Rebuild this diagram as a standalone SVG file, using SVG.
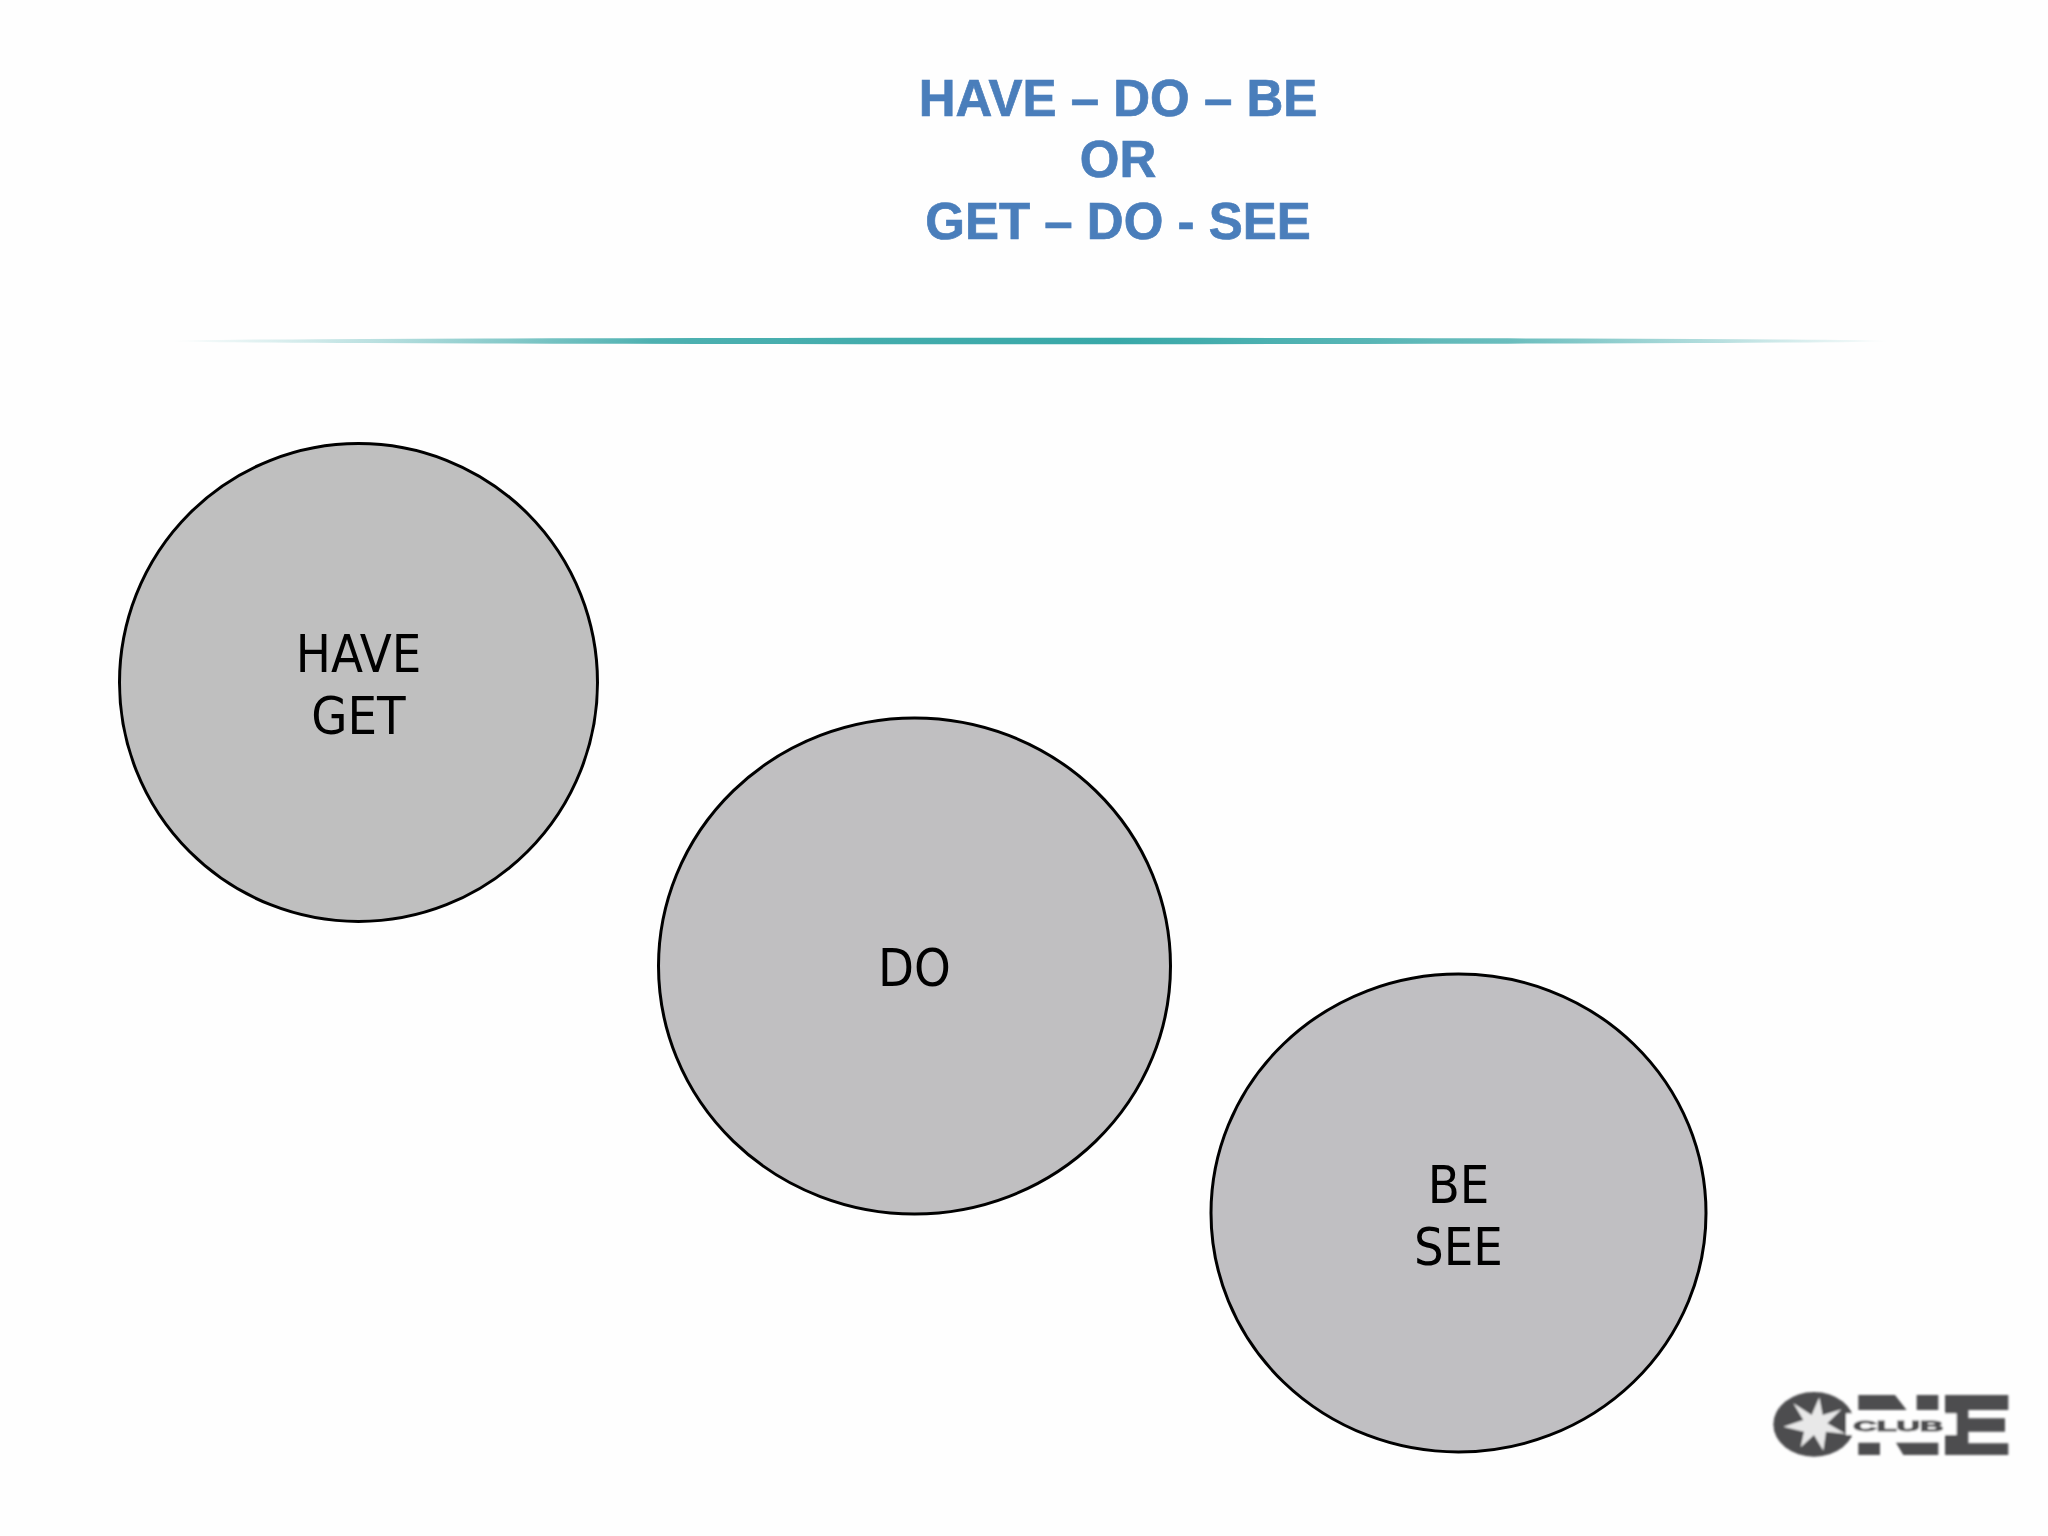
<svg xmlns="http://www.w3.org/2000/svg" width="2048" height="1536" viewBox="0 0 2048 1536">
<style>
.title{font:bold 51px "Liberation Sans",Arial,sans-serif;fill:#4a7ebb;stroke:#4a7ebb;stroke-width:.7;text-anchor:middle}
.node{stroke:#000;stroke-width:3}
.lbl{font:condensed 52px "DejaVu Sans",Verdana,sans-serif;fill:#000;text-anchor:middle}
.logo{fill:#4d4d4f}
</style>
<defs>
<linearGradient id="rule" x1="0" x2="1" y1="0" y2="0">
<stop offset="0" stop-color="#3aa8a8" stop-opacity="0"/>
<stop offset=".12" stop-color="#3aa8a8" stop-opacity=".35"/>
<stop offset=".28" stop-color="#3aa8a8" stop-opacity=".9"/>
<stop offset=".55" stop-color="#38a8a8"/>
<stop offset=".78" stop-color="#3aa8a8" stop-opacity=".75"/>
<stop offset=".92" stop-color="#3aa8a8" stop-opacity=".3"/>
<stop offset="1" stop-color="#3aa8a8" stop-opacity="0"/>
</linearGradient>
<filter id="soft" x="-5%" y="-5%" width="110%" height="110%"><feGaussianBlur stdDeviation="2.400"/></filter>
</defs>
<rect width="2048" height="1536" fill="#fefefe"/>
<g id="title">
<text class="title" x="1118" y="116">HAVE – DO – BE</text>
<text class="title" x="1118" y="177">OR</text>
<text class="title" x="1118" y="239">GET – DO - SEE</text>
</g>
<ellipse id="rule-line" cx="1030" cy="341" rx="860" ry="3.200" fill="url(#rule)"/>
<g id="connectors"/>
<g id="node-have">
<ellipse class="node" cx="358.500" cy="682.500" rx="239" ry="239" fill="#bfbfbf"/>
<text class="lbl" x="358.500" y="672">HAVE</text>
<text class="lbl" x="358.500" y="734">GET</text>
</g>
<g id="node-do">
<ellipse class="node" cx="914.500" cy="966" rx="256" ry="248" fill="#c0bfc1"/>
<text class="lbl" x="914.500" y="986">DO</text>
</g>
<g id="node-be">
<ellipse class="node" cx="1458.500" cy="1213" rx="247.500" ry="239" fill="#c0bfc2"/>
<text class="lbl" x="1458.500" y="1203">BE</text>
<text class="lbl" x="1458.500" y="1265">SEE</text>
</g>
<g id="logo" transform="translate(1740 1360) scale(.3333)" filter="url(#soft)">
<ellipse class="logo" cx="222" cy="193" rx="122" ry="97"/>
<path fill="#e8e8e8" d="M238 112L248 165L305 148L262 190L318 222L258 215L250 272L222 225L182 262L192 215L130 200L190 180L160 130L215 165Z"/>
<path class="logo" d="M355 105H465L500 150H355ZM530 105H595V150H530ZM615 105H805V150H685V175H795V215H685V250H805V285H615ZM355 248H420V285H355ZM468 248H595V285H490Z"/>
<rect x="318" y="160" width="332" height="65" fill="#fefefe"/>
<text x="340" y="212" font-family="Liberation Sans,Arial,sans-serif" font-weight="bold" font-size="42" textLength="270" lengthAdjust="spacingAndGlyphs" stroke="#4d4d4f" stroke-width="3" fill="#4d4d4f">CLUB</text>
</g>
</svg>
